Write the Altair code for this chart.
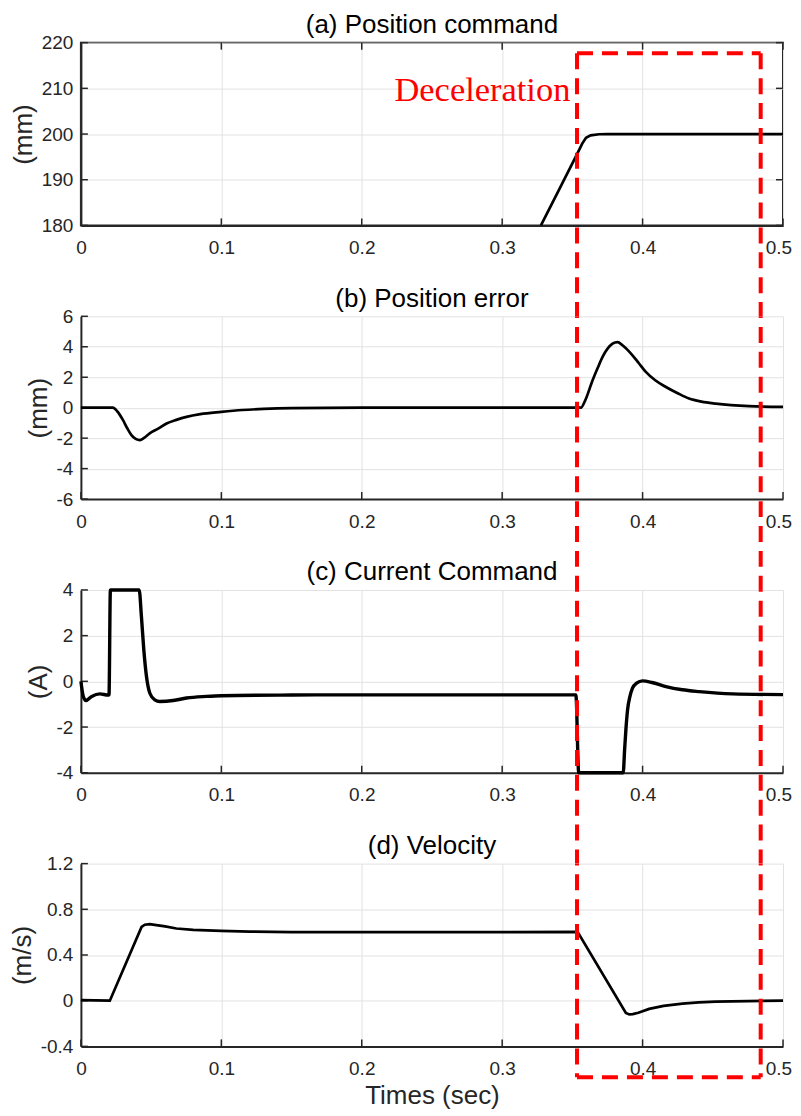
import altair as alt
import pandas as pd

FONT = "Liberation Sans, Arial, Helvetica, sans-serif"
SERIF = "Liberation Serif, Times New Roman, serif"
AXC = "#262626"
GRID = "#e2e2e2"
RED = "#ff0000"
W, H = 703, 183
SPACING = 91

# ---------------- data ----------------
x_ticks = [0, 0.1, 0.2, 0.3, 0.4, 0.5]

# (a) Position command (mm)
pos_t = [0.3276, 0.3400, 0.3535, 0.3570, 0.3597, 0.3630, 0.3690, 0.3750, 0.5000]
pos_v = [180.0, 187.5, 195.7, 197.9, 199.2, 199.7, 199.95, 200.0, 200.0]
pos_ticks = [180, 190, 200, 210, 220]

# (b) Position error (mm)
err_t = [0, 0.0228, 0.026, 0.030, 0.033, 0.036, 0.039, 0.042, 0.045, 0.049, 0.055,
         0.061, 0.068, 0.0752, 0.085, 0.1, 0.115, 0.13, 0.15, 0.2, 0.3, 0.3561,
         0.359, 0.3644, 0.368, 0.3715, 0.3786, 0.3822, 0.3857, 0.3928, 0.3975,
         0.4023, 0.409, 0.4166, 0.425, 0.4331, 0.442, 0.452, 0.4758, 0.5]
err_v = [0, 0, -0.25, -0.82, -1.35, -1.8, -2.05, -2.13, -1.98, -1.68, -1.37,
         -1.04, -0.8, -0.6, -0.42, -0.27, -0.15, -0.08, -0.03, 0, 0, 0,
         0.45, 1.8, 2.6, 3.33, 4.2, 4.31, 4.1, 3.44, 2.9,
         2.35, 1.8, 1.36, 0.95, 0.6, 0.4, 0.27, 0.1, 0.05]
err_ticks = [-6, -4, -2, 0, 2, 4, 6]

# (c) Current command (A)
cur_t = [0, 0.0017, 0.0036, 0.0077, 0.0135, 0.0194, 0.0200, 0.0210, 0.0415, 0.0431,
         0.0448, 0.0467, 0.0491, 0.0526, 0.0562, 0.0657, 0.0752, 0.0894, 0.1, 0.15,
         0.2, 0.3, 0.3525, 0.3545, 0.3862, 0.3872, 0.3881, 0.3893, 0.391, 0.3928,
         0.3957, 0.4, 0.4067, 0.4166, 0.4284, 0.4402, 0.464, 0.5]
cur_v = [0, -0.66, -0.84, -0.66, -0.55, -0.6, -0.6, 4.0, 4.0, 2.83,
         1.38, 0.21, -0.52, -0.81, -0.88, -0.84, -0.73, -0.66, -0.63, -0.6,
         -0.59, -0.59, -0.59, -4.0, -4.0, -2.99, -2.12, -1.25, -0.66, -0.3,
         -0.08, 0.02, -0.05, -0.23, -0.37, -0.45, -0.55, -0.58]
cur_ticks = [-4, -2, 0, 2, 4]

# (d) Velocity (m/s)
vel_t = [0, 0.01, 0.0206, 0.0432, 0.0455, 0.049, 0.055, 0.060, 0.068, 0.08, 0.1,
         0.12, 0.15, 0.2, 0.3, 0.3537, 0.3881, 0.3905, 0.393, 0.397, 0.4047, 0.415,
         0.4284, 0.44, 0.452, 0.475, 0.5]
vel_v = [0.005, 0.003, 0.0, 0.646, 0.665, 0.67, 0.66, 0.65, 0.632, 0.62, 0.611,
         0.605, 0.6, 0.6, 0.6, 0.603, -0.107, -0.12, -0.118, -0.105, -0.072, -0.045,
         -0.026, -0.015, -0.009, -0.003, 0.0]
vel_ticks = [-0.4, 0, 0.4, 0.8, 1.2]

# deceleration window (time) and annotation
decel_t = [0.3533, 0.4841]
note_t = [0.2233]
note_v = [207.3]
note_s = ["Deceleration"]

# ---------------- helpers ----------------
LBL = "toString(datum.value)"
PERIOD = (H + SPACING) / 11.0
DASH = [16, PERIOD - 16]
RECT_TOP = 10.7       # px below top of panel (a)
RECT_BOT = H + 31     # px below top of panel (d)
PHASE = ((H + SPACING - RECT_TOP) % PERIOD)
LAST = "datum.value == 0.5"


def X(field="t", title=None):
    return alt.X(f"{field}:Q",
                 scale=alt.Scale(domain=[0, 0.5], nice=False, zero=False),
                 axis=alt.Axis(values=x_ticks, labelExpr=LBL, title=title,
                               grid=True, labelFlush=False,
                               labelAlign=alt.condition(LAST, alt.value("right"),
                                                        alt.value("center")),
                               labelOffset=alt.condition(LAST, alt.value(8.5),
                                                         alt.value(0))))


def Y(ticks, title, field="v"):
    return alt.Y(f"{field}:Q",
                 scale=alt.Scale(domain=[ticks[0], ticks[-1]], nice=False, zero=False),
                 axis=alt.Axis(values=ticks, labelExpr=LBL, title=title, grid=True))


def window_parts(which, xtitle):
    """Pieces of the red dashed deceleration window that belong to one panel."""
    df = pd.DataFrame({"t": decel_t})
    if which == "a":
        y0, y1, off = RECT_TOP, H + SPACING, 0
    elif which == "d":
        y0, y1, off = 0, RECT_BOT, PHASE
    else:
        y0, y1, off = 0, H + SPACING, PHASE
    parts = [alt.Chart(df).mark_rule(color=RED, strokeWidth=4, strokeDash=DASH,
                                     strokeDashOffset=off).encode(
        x=X("t", xtitle), y=alt.value(y0), y2=alt.value(y1))]
    if which in ("a", "d"):
        hdf = pd.DataFrame({"t": [decel_t[0]], "t2": [decel_t[1]]})
        yy = RECT_TOP if which == "a" else RECT_BOT
        parts.append(alt.Chart(hdf).mark_rule(color=RED, strokeWidth=4,
                                              strokeDash=[16, 9]).encode(
            x=X("t", xtitle), x2="t2:Q", y=alt.value(yy)))
    return parts


def panel(t, v, ticks, title, ytitle, which, box=False, xtitle=None, extra=None,
          lw=2.7, interp="linear"):
    line_df = pd.DataFrame({"t": t, "v": v})
    xt = pd.DataFrame({"t": x_ticks})
    yt = pd.DataFrame({"v": ticks})
    line = alt.Chart(line_df).mark_line(color="black", strokeWidth=lw,
                                        interpolate=interp).encode(
        x=X("t", xtitle), y=Y(ticks, ytitle))
    xtick_b = alt.Chart(xt).mark_rule(color=AXC, strokeWidth=1.5).encode(
        x=X("t", xtitle), y=alt.value(H), y2=alt.value(H - 7))
    ytick_l = alt.Chart(yt).mark_rule(color=AXC, strokeWidth=1.5).encode(
        y=Y(ticks, ytitle), x=alt.value(0), x2=alt.value(7))
    layers = [xtick_b, ytick_l]
    if box:
        xtick_t = alt.Chart(xt).mark_rule(color=AXC, strokeWidth=1.5).encode(
            x=X("t", xtitle), y=alt.value(0), y2=alt.value(7))
        ytick_r = alt.Chart(yt).mark_rule(color=AXC, strokeWidth=1.5).encode(
            y=Y(ticks, ytitle), x=alt.value(W), x2=alt.value(W - 7))
        layers += [xtick_t, ytick_r]
    layers.append(line)
    if extra:
        layers += extra
    layers += window_parts(which, xtitle)
    view = alt.ViewBackground(stroke=AXC, strokeWidth=2) if box else \
        alt.ViewBackground(stroke="transparent")
    return alt.layer(*layers).properties(
        width=W, height=H, view=view,
        title=alt.TitleParams(title, fontSize=26, font=FONT, fontWeight="normal",
                              color="black", offset=-4.5, frame="group"))


# annotation in panel (a)
note = alt.Chart(pd.DataFrame({"t": note_t, "v": note_v, "s": note_s})).mark_text(
    align="left", baseline="alphabetic", font=SERIF, fontSize=34.5, color=RED
).encode(x=X("t"), y=Y(pos_ticks, "(mm)"), text="s:N")

pa = panel(pos_t, pos_v, pos_ticks, "(a) Position command", "(mm)", "a", box=True,
           extra=[note])
pb = panel(err_t, err_v, err_ticks, "(b) Position error", "(mm)", "b",
           interp="monotone")
pc = panel(cur_t, cur_v, cur_ticks, "(c) Current Command", "(A)", "c", lw=3.4,
           interp="monotone")
pd_ = panel(vel_t, vel_v, vel_ticks, "(d) Velocity", "(m/s)", "d",
            xtitle="Times (sec)")

chart = alt.vconcat(pa, pb, pc, pd_, spacing=SPACING, bounds="flush").properties(
    padding={"left": 0, "top": 2, "right": 0, "bottom": 0},
    background="white",
).configure_view(stroke="transparent").configure_axis(
    labelFont=FONT, labelFontSize=19, labelColor=AXC,
    titleFont=FONT, titleFontSize=26, titleFontWeight="normal", titleColor=AXC,
    domainColor=AXC, domainWidth=2, ticks=False,
    gridColor=GRID, gridWidth=1,
).configure_axisX(labelPadding=13, titlePadding=4.5).configure_axisY(
    labelPadding=8, titlePadding=5)

chart.save("out.html", embed_options={"renderer": "svg", "actions": False})
